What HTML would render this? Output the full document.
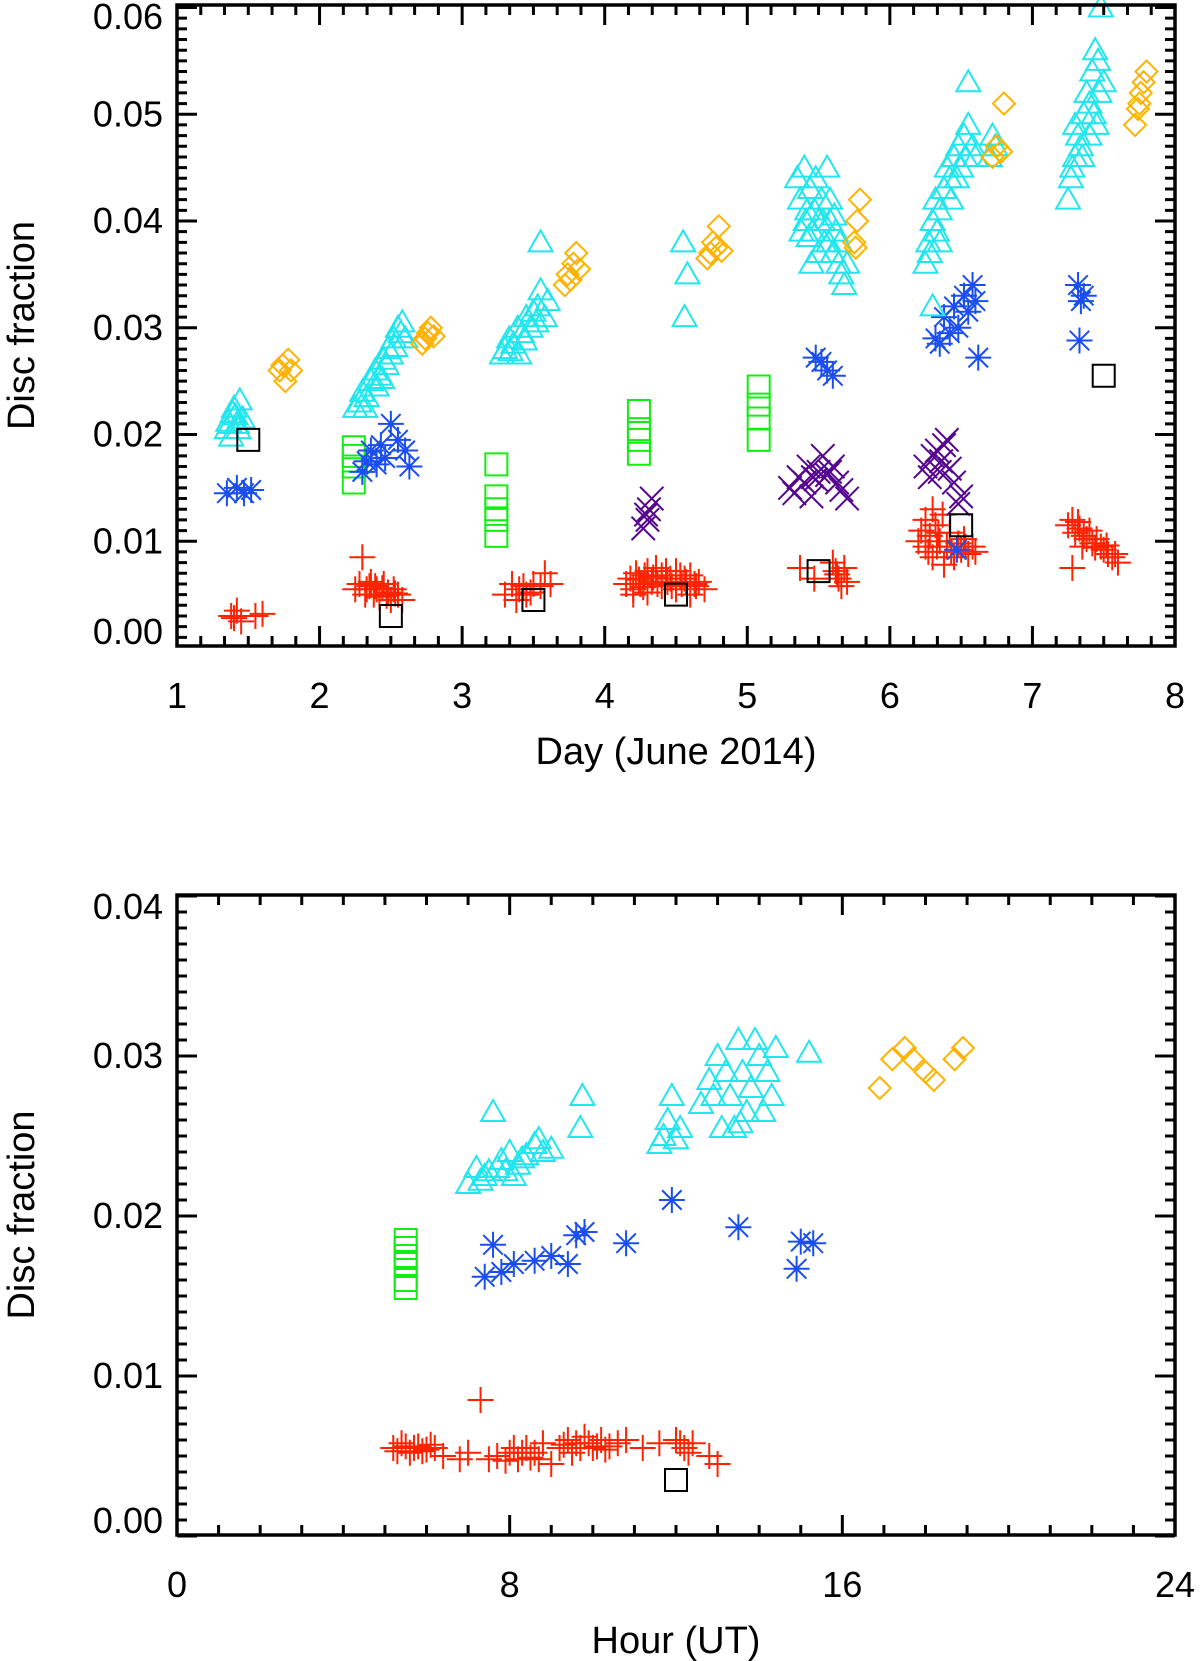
<!DOCTYPE html>
<html><head><meta charset="utf-8"><style>
html,body{margin:0;padding:0;background:#fff;}
svg{display:block;font-family:"Liberation Sans","DejaVu Sans",sans-serif;}
</style></head><body>
<svg id="fig" width="1200" height="1661" viewBox="0 0 1200 1661" xmlns="http://www.w3.org/2000/svg"></svg>
<script>
// ---------- TOP PANEL DATA (day, disc fraction) ----------
const topRed = [[1.38,0.003],[1.42,0.0035],[1.45,0.0025],[1.55,0.003],[1.6,0.0032],[1.4,0.0028],
[2.25,0.0055],[2.28,0.006],[2.3,0.0085],[2.32,0.005],[2.35,0.0058],[2.38,0.005],[2.4,0.0055],[2.42,0.0048],[2.45,0.006],[2.48,0.0052],[2.5,0.0045],[2.52,0.0055],[2.55,0.005],[2.58,0.0045],[2.36,0.0062],[2.44,0.0056],[2.33,0.0055],[2.39,0.0058],[2.47,0.0049],[2.53,0.0051],
[3.3,0.005],[3.35,0.006],[3.4,0.0055],[3.45,0.005],[3.5,0.006],[3.55,0.0058],[3.58,0.007],[3.62,0.006],[3.38,0.0045],[3.43,0.0058],[3.48,0.0052],
[4.15,0.006],[4.18,0.0065],[4.2,0.0055],[4.22,0.007],[4.25,0.006],[4.28,0.0068],[4.3,0.0072],[4.33,0.0062],[4.36,0.0075],[4.4,0.0068],[4.43,0.0072],[4.46,0.0065],[4.5,0.0072],[4.53,0.0068],[4.56,0.0065],[4.6,0.0068],[4.63,0.006],[4.66,0.0062],[4.7,0.0055],[4.2,0.005],[4.3,0.0052],[4.4,0.0058],[4.5,0.0055],[4.6,0.005],[4.24,0.0064],[4.34,0.0066],[4.44,0.0062],[4.54,0.006],[4.64,0.0058],[4.27,0.0057],[4.37,0.006],[4.47,0.0058],[4.57,0.0062],
[5.37,0.0075],[5.47,0.0065],[5.6,0.008],[5.62,0.0072],[5.64,0.0065],[5.66,0.0058],[5.7,0.0062],[5.68,0.0075],[5.63,0.0069],
[6.2,0.01],[6.22,0.011],[6.25,0.012],[6.27,0.009],[6.3,0.013],[6.32,0.0115],[6.35,0.01],[6.37,0.0125],[6.4,0.0095],[6.42,0.0108],[6.45,0.0085],[6.48,0.0098],[6.5,0.0092],[6.52,0.0102],[6.55,0.0088],[6.58,0.0095],[6.6,0.009],[6.3,0.0085],[6.38,0.0078],[6.25,0.0095],[6.28,0.0105],[6.33,0.0095],[6.43,0.009],[6.53,0.0095],[6.34,0.0108],
[7.25,0.0115],[7.28,0.012],[7.3,0.0108],[7.33,0.0112],[7.36,0.0105],[7.4,0.011],[7.42,0.0098],[7.45,0.0102],[7.48,0.0095],[7.5,0.0092],[7.53,0.0088],[7.56,0.0085],[7.6,0.008],[7.28,0.0075],[7.35,0.0095],[7.32,0.0118],[7.38,0.0102],[7.44,0.0094],[7.52,0.0096],[7.58,0.0088]];
const topCyan = [[1.35,0.0205],[1.37,0.021],[1.39,0.022],[1.4,0.0225],[1.42,0.021],[1.44,0.0232],[1.46,0.0215],[1.38,0.0198],[1.43,0.0205],[1.41,0.0218],[1.36,0.0212],
[2.25,0.0225],[2.28,0.023],[2.3,0.024],[2.33,0.0235],[2.36,0.025],[2.39,0.026],[2.42,0.0255],[2.45,0.027],[2.48,0.028],[2.5,0.0275],[2.52,0.029],[2.55,0.03],[2.58,0.0305],[2.6,0.029],[2.4,0.0245],[2.47,0.0265],[2.32,0.0225],[2.44,0.0252],[2.53,0.0282],[2.57,0.0295],
[3.28,0.0275],[3.3,0.028],[3.33,0.029],[3.36,0.0285],[3.39,0.03],[3.42,0.0295],[3.45,0.031],[3.48,0.03],[3.5,0.0315],[3.53,0.032],[3.55,0.0335],[3.58,0.031],[3.6,0.0325],[3.55,0.038],[3.4,0.0275],[3.34,0.0278],[3.44,0.0288],[3.52,0.0305],
[4.55,0.038],[4.58,0.035],[4.56,0.031],
[5.35,0.044],[5.37,0.042],[5.4,0.045],[5.42,0.041],[5.44,0.043],[5.46,0.039],[5.48,0.044],[5.5,0.04],[5.52,0.042],[5.54,0.038],[5.56,0.045],[5.58,0.04],[5.6,0.037],[5.62,0.039],[5.64,0.036],[5.66,0.035],[5.68,0.034],[5.7,0.036],[5.45,0.036],[5.5,0.037],[5.58,0.042],[5.38,0.039],[5.41,0.04],[5.47,0.041],[5.53,0.04],[5.57,0.038],[5.61,0.0405],[5.65,0.038],[5.43,0.0385],
[6.25,0.036],[6.27,0.038],[6.3,0.04],[6.32,0.042],[6.35,0.041],[6.38,0.043],[6.4,0.045],[6.42,0.044],[6.45,0.046],[6.48,0.047],[6.5,0.045],[6.52,0.048],[6.55,0.049],[6.58,0.047],[6.6,0.046],[6.55,0.053],[6.3,0.032],[6.35,0.038],[6.7,0.046],[6.72,0.048],[6.74,0.047],[6.28,0.037],[6.33,0.039],[6.43,0.042],[6.47,0.044],[6.53,0.046],
[7.25,0.042],[7.27,0.044],[7.3,0.046],[7.32,0.048],[7.34,0.047],[7.36,0.05],[7.38,0.052],[7.4,0.051],[7.42,0.054],[7.44,0.056],[7.46,0.055],[7.48,0.06],[7.5,0.053],[7.3,0.049],[7.4,0.048],[7.28,0.045],[7.35,0.046],[7.43,0.05],[7.47,0.052],[7.45,0.049]];
const topOrange = [[1.72,0.026],[1.74,0.0265],[1.76,0.025],[1.78,0.027],[1.8,0.026],
[2.72,0.0285],[2.74,0.029],[2.76,0.0295],[2.78,0.03],[2.8,0.0292],
[3.72,0.034],[3.74,0.035],[3.76,0.0345],[3.78,0.036],[3.8,0.037],[3.82,0.0355],
[4.72,0.0365],[4.74,0.037],[4.76,0.038],[4.78,0.0375],[4.8,0.0395],[4.82,0.0372],
[5.75,0.038],[5.77,0.04],[5.79,0.042],[5.76,0.0375],
[6.72,0.046],[6.75,0.047],[6.78,0.0465],[6.8,0.051],
[7.72,0.049],[7.74,0.0505],[7.76,0.052],[7.78,0.053],[7.8,0.054],[7.75,0.051]];
const topGreen = [[2.24,0.0155],[2.24,0.017],[2.24,0.018],[2.24,0.0188],
[3.24,0.0105],[3.24,0.012],[3.24,0.013],[3.24,0.0142],[3.24,0.0172],
[4.24,0.0182],[4.24,0.0195],[4.24,0.0205],[4.24,0.0222],
[5.08,0.0195],[5.08,0.0215],[5.08,0.0228],[5.08,0.0245]];
const topBlue = [[1.35,0.0145],[1.42,0.015],[1.47,0.0145],[1.52,0.0148],
[2.3,0.0165],[2.33,0.0175],[2.36,0.0185],[2.4,0.0172],[2.43,0.019],[2.46,0.0178],[2.5,0.021],[2.55,0.0195],[2.6,0.0185],[2.63,0.017],
[5.48,0.0272],[5.52,0.0268],[5.56,0.026],[5.6,0.0255],
[6.32,0.029],[6.35,0.0285],[6.38,0.031],[6.42,0.0295],[6.45,0.032],[6.48,0.03],[6.52,0.033],[6.55,0.0315],[6.58,0.034],[6.6,0.0325],[6.62,0.0272],[6.47,0.0092],
[7.32,0.034],[7.34,0.0325],[7.36,0.033],[7.33,0.0288]];
const topPurple = [[4.27,0.0112],[4.29,0.0125],[4.31,0.013],[4.33,0.014],[4.3,0.012],
[5.3,0.015],[5.33,0.0145],[5.36,0.016],[5.4,0.0155],[5.43,0.017],[5.46,0.016],[5.5,0.0165],[5.53,0.018],[5.56,0.0162],[5.6,0.017],[5.63,0.0155],[5.66,0.0148],[5.7,0.014],[5.45,0.0142],[5.48,0.0158],[5.58,0.0165],
[6.25,0.017],[6.28,0.016],[6.3,0.018],[6.33,0.0185],[6.36,0.0175],[6.4,0.0195],[6.42,0.0168],[6.45,0.0155],[6.48,0.0135],[6.5,0.0142],[6.35,0.0165],[6.38,0.019]];
const topBlack = [[1.5,0.0195],[2.5,0.003],[3.5,0.0045],[4.5,0.005],[5.5,0.0072],[6.5,0.0115],[7.5,0.0255]];

// ---------- BOTTOM PANEL DATA (hour UT, disc fraction) ----------
const botRed = [[5.2,0.0055],[5.4,0.0058],[5.6,0.0052],[5.8,0.0056],[6.0,0.0054],[6.2,0.0055],[6.4,0.005],[6.8,0.0048],[7.0,0.0052],[7.3,0.0085],[7.5,0.0048],[7.7,0.005],[8.0,0.0052],[8.2,0.0048],[8.4,0.0055],[8.6,0.0052],[8.8,0.0058],[9.0,0.0045],[9.2,0.0055],[9.4,0.006],[9.6,0.0058],[9.8,0.0062],[10.0,0.0055],[10.2,0.006],[10.4,0.0056],[10.6,0.0058],[10.8,0.006],[11.2,0.0055],[11.6,0.0058],[12.0,0.006],[12.2,0.0055],[12.4,0.0058],[12.8,0.005],[13.0,0.0045],[8.7,0.0048],[9.5,0.0052],
[5.3,0.0053],[5.5,0.0056],[5.7,0.0055],[5.9,0.0053],[6.1,0.0057],[7.9,0.0047],[8.1,0.0055],[8.3,0.0052],[8.5,0.0049],[9.3,0.0057],[9.7,0.0055],[9.9,0.0058],[10.1,0.0056],[10.3,0.0054],[12.1,0.0058],[12.3,0.0052]];
const botCyan = [[7.0,0.022],[7.2,0.023],[7.4,0.0225],[7.6,0.0265],[7.8,0.0235],[8.0,0.024],[8.2,0.0232],[8.4,0.0238],[8.6,0.0245],[8.8,0.024],[9.0,0.0242],[7.5,0.0228],[8.1,0.0225],[7.3,0.0222],[7.7,0.023],[7.9,0.0228],[8.3,0.0236],[8.7,0.0248],
[9.7,0.0255],[9.75,0.0275],
[11.6,0.0245],[11.7,0.025],[11.8,0.026],[11.9,0.0275],[12.0,0.0248],[12.1,0.0255],
[12.6,0.027],[12.8,0.0285],[13.0,0.03],[13.1,0.0255],[13.3,0.0275],[13.5,0.031],[13.6,0.029],[13.7,0.0265],[13.8,0.028],[14.0,0.03],[14.1,0.0265],[14.2,0.029],[14.4,0.0305],[13.4,0.0255],[14.3,0.0275],[15.2,0.0302],[12.9,0.0275],[13.2,0.029],[13.9,0.031],[13.55,0.0258]];
const botOrange = [[16.9,0.028],[17.2,0.0298],[17.5,0.0305],[17.7,0.0298],[18.0,0.029],[18.2,0.0285],[18.7,0.0298],[18.9,0.0305]];
const botGreen = [[5.5,0.0155],[5.5,0.016],[5.5,0.017],[5.5,0.018],[5.5,0.0185],[5.5,0.0175]];
const botBlue = [[7.4,0.0162],[7.6,0.0182],[7.8,0.0165],[8.1,0.017],[8.6,0.0172],[9.0,0.0175],[9.4,0.017],[9.6,0.0188],[9.8,0.019],[10.8,0.0183],[11.9,0.021],[13.5,0.0193],[14.9,0.0167],[15.0,0.0184],[15.3,0.0183]];
const botBlack = [[12.0,0.0035]];

const xTicksTop = ['1','2','3','4','5','6','7','8'];
const yTicksTop = ['0.00','0.01','0.02','0.03','0.04','0.05','0.06'];
const xTicksBot = ['0','8','16','24'];
const yTicksBot = ['0.00','0.01','0.02','0.03','0.04'];

const NS='http://www.w3.org/2000/svg';
const svg=document.getElementById('fig');
function mk(tag,attrs,parent){const e=document.createElementNS(NS,tag);for(const k in attrs)e.setAttribute(k,attrs[k]);(parent||svg).appendChild(e);return e;}

const COL={red:'#ff2200',cyan:'#22e6ee',orange:'#ffb300',green:'#11ee11',blue:'#1a4ef0',purple:'#55058f',black:'#000'};

function marker(g,kind,cx,cy,color){
  const s=13, sw=2;
  let d='';
  if(kind==='plus') d=`M${cx-s} ${cy}H${cx+s}M${cx} ${cy-s}V${cy+s}`;
  else if(kind==='x'){const a=s*0.9;d=`M${cx-a} ${cy-a}L${cx+a} ${cy+a}M${cx-a} ${cy+a}L${cx+a} ${cy-a}`;}
  else if(kind==='ast'){const a=s*0.75;d=`M${cx-s} ${cy}H${cx+s}M${cx} ${cy-s}V${cy+s}M${cx-a} ${cy-a}L${cx+a} ${cy+a}M${cx-a} ${cy+a}L${cx+a} ${cy-a}`;}
  else if(kind==='sq') d=`M${cx-11} ${cy-11}H${cx+11}V${cy+11}H${cx-11}Z`;
  else if(kind==='dia') d=`M${cx} ${cy-11}L${cx+11} ${cy}L${cx} ${cy+11}L${cx-11} ${cy}Z`;
  else if(kind==='tri') d=`M${cx} ${cy-12}L${cx+12} ${cy+9}L${cx-12} ${cy+9}Z`;
  const p=mk('path',{d:d,fill:'none',stroke:color,'stroke-width':sw},g);
  
  
}

function panel(opt){
  const g=mk('g',{});
  
  
  const X=v=>opt.x0+(v-opt.xmin)/(opt.xmax-opt.xmin)*(opt.x1-opt.x0);
  const Y=v=>opt.yZero-v*opt.yScale;
  opt.series.forEach(s=>{
    const sg=mk('g',{},g);
    
    
    s.data.forEach(p=>marker(sg,s.kind,X(p[0]),Y(p[1]),s.color));
  });
  const fr=mk('rect',{x:opt.x0,y:opt.top,width:opt.x1-opt.x0,height:opt.bot-opt.top,fill:'none',stroke:'#000','stroke-width':3.5},g);
  
  
  let d='';
  for(let i=0;i<=opt.xMinorN;i++){
    const v=opt.xmin+i*(opt.xmax-opt.xmin)/opt.xMinorN;
    const major=i%opt.xMinorPer===0;
    const L=major?20:10, x=X(v);
    d+=`M${x} ${opt.bot}V${opt.bot-L}M${x} ${opt.top}V${opt.top+L}`;
  }
  for(let v=0;v<=opt.ymax+1e-9;v+=opt.yMinor){
    const y=Y(v); if(y<opt.top-1||y>opt.bot+1) continue;
    const major=Math.abs(v/opt.yMajor-Math.round(v/opt.yMajor))<1e-6;
    const L=major?20:10;
    d+=`M${opt.x0} ${y}H${opt.x0+L}M${opt.x1} ${y}H${opt.x1-L}`;
  }
  const tk=mk('path',{d:d,stroke:'#000','stroke-width':3,fill:'none'},g);
  
  
  opt.xLabels.forEach((t,i)=>{
    const v=opt.xmin+i*opt.xStep;
    const e=mk('text',{x:X(v),y:opt.bot+62,'font-size':36,'text-anchor':'middle'},g);
    e.textContent=t;
    
    
  });
  opt.yLabels.forEach((t,i)=>{
    const v=i*opt.yMajor;
    let y=Y(v)+12; if(y>opt.bot) y=opt.bot-2; if(y-24<opt.top) y=opt.top+24;
    const e=mk('text',{x:opt.x0-14,y:y,'font-size':36,'text-anchor':'end'},g);
    e.textContent=t;
    
    
  });
  const xt=mk('text',{x:(opt.x0+opt.x1)/2,y:opt.bot+118,'font-size':38,'text-anchor':'middle'},g);
  xt.textContent=opt.xTitle;
  
  
  const cy=(opt.top+opt.bot)/2;
  const yt=mk('text',{x:0,y:0,'font-size':38,'text-anchor':'middle',transform:`translate(34 ${cy}) rotate(-90)`},g);
  yt.textContent='Disc fraction';
  
  
}

panel({name:'top-panel-day',x0:177,x1:1175,top:5,bot:646,xmin:1,xmax:8,xStep:1,xMinorN:42,xMinorPer:6,
  yZero:648,yScale:10675,ymax:0.061,yMinor:0.001,yMajor:0.01,xLabels:xTicksTop,yLabels:yTicksTop,xTitle:'Day (June 2014)',
  series:[{name:'red-plus-series',kind:'plus',color:COL.red,data:topRed},
    {name:'green-square-series',kind:'sq',color:COL.green,data:topGreen},
    {name:'purple-x-series',kind:'x',color:COL.purple,data:topPurple},
    {name:'blue-asterisk-series',kind:'ast',color:COL.blue,data:topBlue},
    {name:'cyan-triangle-series',kind:'tri',color:COL.cyan,data:topCyan},
    {name:'orange-diamond-series',kind:'dia',color:COL.orange,data:topOrange},
    {name:'black-square-series',kind:'sq',color:COL.black,data:topBlack}]});

panel({name:'bottom-panel-hour',x0:177,x1:1175,top:895,bot:1535,xmin:0,xmax:24,xStep:8,xMinorN:24,xMinorPer:8,
  yZero:1536,yScale:16000,ymax:0.041,yMinor:0.001,yMajor:0.01,xLabels:xTicksBot,yLabels:yTicksBot,xTitle:'Hour (UT)',
  series:[{name:'red-plus-series',kind:'plus',color:COL.red,data:botRed},
    {name:'green-square-series',kind:'sq',color:COL.green,data:botGreen},
    {name:'blue-asterisk-series',kind:'ast',color:COL.blue,data:botBlue},
    {name:'cyan-triangle-series',kind:'tri',color:COL.cyan,data:botCyan},
    {name:'orange-diamond-series',kind:'dia',color:COL.orange,data:botOrange},
    {name:'black-square-series',kind:'sq',color:COL.black,data:botBlack}]});
</script>
</body></html>
